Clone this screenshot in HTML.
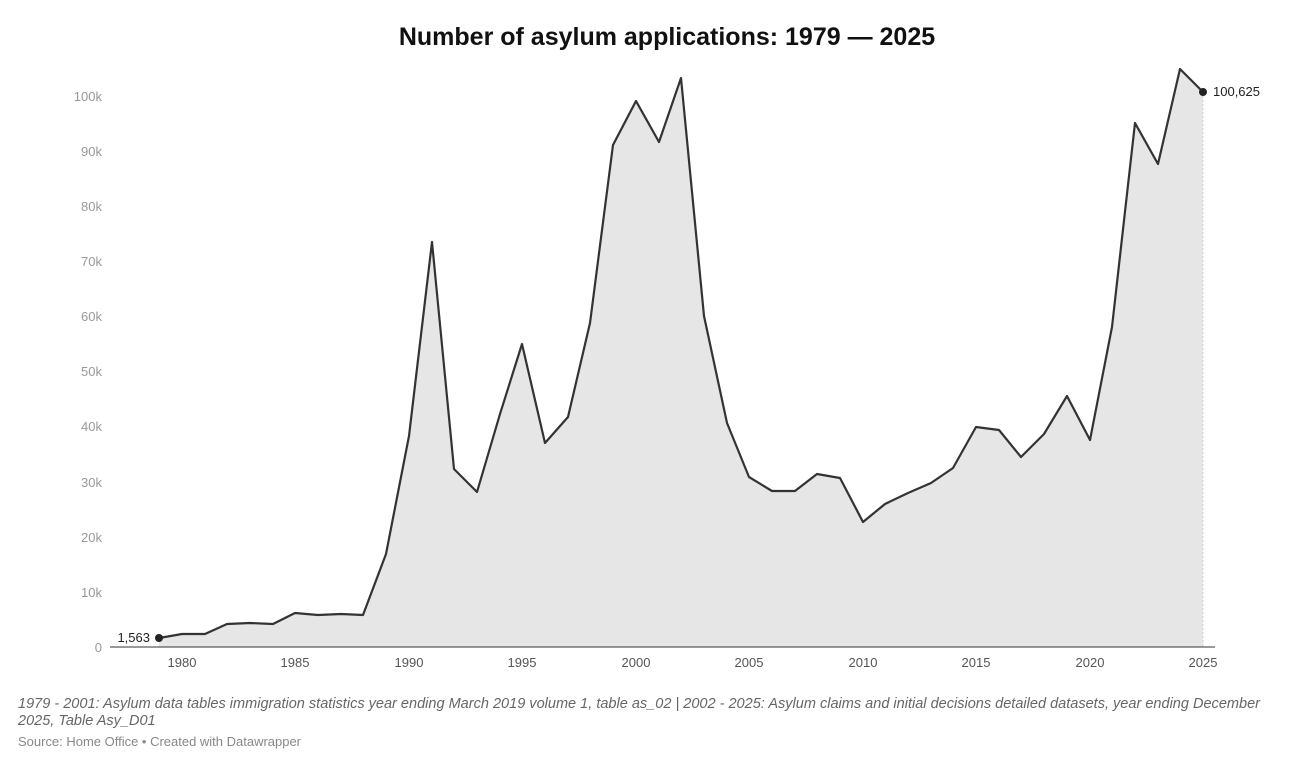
<!DOCTYPE html>
<html><head><meta charset="utf-8"><style>
body{margin:0;background:#fff;width:1306px;height:767px;overflow:hidden;font-family:"Liberation Sans",sans-serif}
</style></head><body>
<svg width="1306" height="767" xmlns="http://www.w3.org/2000/svg" font-family="Liberation Sans, sans-serif">
<text x="667" y="45" text-anchor="middle" font-size="25" font-weight="bold" fill="#111">Number of asylum applications: 1979 — 2025</text>
<g font-size="13" fill="#999" text-anchor="end">
<text x="102" y="652">0</text><text x="102" y="597">10k</text><text x="102" y="542">20k</text><text x="102" y="487">30k</text><text x="102" y="431">40k</text><text x="102" y="376">50k</text><text x="102" y="321">60k</text><text x="102" y="266">70k</text><text x="102" y="211">80k</text><text x="102" y="156">90k</text><text x="102" y="101">100k</text>
</g>
<polygon fill="#e6e6e6" points="159,647 159,638 182,634 205,634 227,624 250,623 273,624 295,613 318,615 341,614 363,615 386,554 409,436 432,242 454,469 477,492 500,414 522,344 545,443 568,417 590,323 613,145 636,101 659,142 681,78 704,316 727,423 749,477 772,491 795,491 817,474 840,478 863,522 885,504 908,493 931,483 953,468 976,427 999,430 1021,457 1044,434 1067,396 1090,440 1112,327 1135,123 1158,164 1180,69 1203,92 1203,647"/>
<line x1="1203" y1="92" x2="1203" y2="647" stroke="#ccc" stroke-dasharray="2,2"/>
<line x1="110" y1="647" x2="1215" y2="647" stroke="#333" stroke-width="1"/>
<polyline fill="none" stroke="#333" stroke-width="2.2" stroke-linejoin="round" points="159,638 182,634 205,634 227,624 250,623 273,624 295,613 318,615 341,614 363,615 386,554 409,436 432,242 454,469 477,492 500,414 522,344 545,443 568,417 590,323 613,145 636,101 659,142 681,78 704,316 727,423 749,477 772,491 795,491 817,474 840,478 863,522 885,504 908,493 931,483 953,468 976,427 999,430 1021,457 1044,434 1067,396 1090,440 1112,327 1135,123 1158,164 1180,69 1203,92"/>
<circle cx="159" cy="638" r="4" fill="#222"/><circle cx="1203" cy="92" r="4" fill="#222"/>
<text x="150" y="642" text-anchor="end" font-size="13" fill="#222">1,563</text>
<text x="1213" y="96" font-size="13" fill="#222">100,625</text>
<g font-size="13" fill="#555" text-anchor="middle">
<text x="182" y="667">1980</text><text x="295" y="667">1985</text><text x="409" y="667">1990</text><text x="522" y="667">1995</text><text x="636" y="667">2000</text><text x="749" y="667">2005</text><text x="863" y="667">2010</text><text x="976" y="667">2015</text><text x="1090" y="667">2020</text><text x="1203" y="667">2025</text>
</g>
<g font-size="14.5" fill="#666" font-style="italic">
<text x="18" y="708" textLength="1242" lengthAdjust="spacingAndGlyphs">1979 - 2001: Asylum data tables immigration statistics year ending March 2019 volume 1, table as_02 | 2002 - 2025: Asylum claims and initial decisions detailed datasets, year ending December</text>
<text x="18" y="725">2025, Table Asy_D01</text>
</g>
<text x="18" y="746" font-size="13" fill="#888" textLength="283" lengthAdjust="spacingAndGlyphs">Source: Home Office • Created with Datawrapper</text>
</svg>
</body></html>
